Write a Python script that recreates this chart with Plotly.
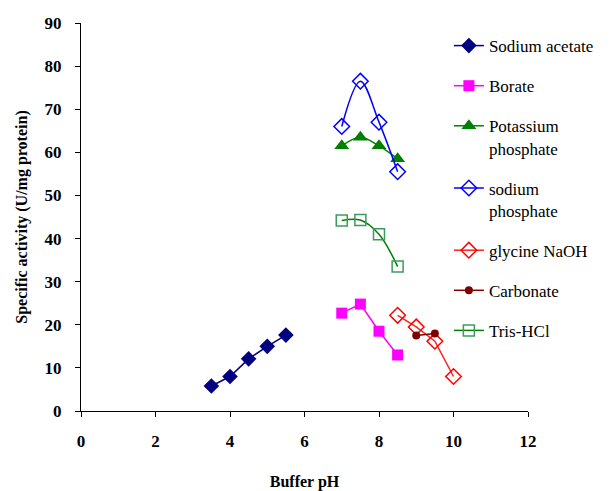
import plotly.graph_objects as go

# Data
acetate_ph = [3.5, 4, 4.5, 5, 5.5]
acetate_act = [5.8, 8.0, 12.1, 15.0, 17.6]

borate_ph = [7, 7.5, 8, 8.5]
borate_act = [22.7, 24.8, 18.5, 13.0]

kphos_ph = [7, 7.5, 8, 8.5]
kphos_act = [61.5, 63.5, 61.5, 58.5]

naphos_ph = [7, 7.5, 8, 8.5]
naphos_act = [66.0, 76.5, 67.0, 55.5]

glycine_ph = [8.5, 9, 9.5, 10]
glycine_act = [22.2, 19.5, 16.2, 8.0]

carb_ph = [9, 9.5]
carb_act = [17.5, 18.0]

tris_ph = [7, 7.5, 8, 8.5]
tris_act = [44.2, 44.3, 41.0, 33.5]

series = [
    ("Sodium acetate", acetate_ph, acetate_act, dict(symbol="diamond", size=12, color="#000080"), dict(color="#000080", width=1.5), "linear"),
    ("Borate", borate_ph, borate_act, dict(symbol="square", size=11, color="#FF00FF"), dict(color="#FF00FF", width=1.5), "linear"),
    ("Potassium<br>phosphate", kphos_ph, kphos_act, dict(symbol="triangle-up", size=13, color="#008000"), dict(color="#008000", width=1.5), "spline"),
    ("sodium<br>phosphate", naphos_ph, naphos_act, dict(symbol="diamond-open", size=12, color="#0000FF", line=dict(width=1.5)), dict(color="#0000FF", width=1.5), "spline"),
    ("glycine NaOH", glycine_ph, glycine_act, dict(symbol="diamond-open", size=12, color="#FF0000", line=dict(width=1.5)), dict(color="#FF2020", width=1.5), "linear"),
    ("Carbonate", carb_ph, carb_act, dict(symbol="circle", size=8, color="#800000"), dict(color="#800000", width=1.5), "linear"),
    ("Tris-HCl", tris_ph, tris_act, dict(symbol="square-open", size=11, color="#3C9A60", line=dict(width=1.5)), dict(color="#008000", width=1.5), "spline"),
]

fig = go.Figure()
for name, x, y, marker, line, shape in series:
    line = dict(line, shape=shape)
    fig.add_trace(go.Scatter(x=x, y=y, name=name, mode="lines+markers",
                             marker=marker, line=line, legendgroup=name))

FF = "Liberation Serif"
fig.update_layout(
    width=615, height=491,
    margin=dict(l=81, r=87, t=23, b=80),
    plot_bgcolor="white", paper_bgcolor="white",
    font=dict(family=FF, color="black"),
    showlegend=True,
    legend=dict(x=0.823, y=0.987, xanchor="left", yanchor="top",
                font=dict(family=FF, size=17, color="black"),
                valign="top", tracegroupgap=15, bgcolor="rgba(0,0,0,0)",
                itemwidth=30),
    xaxis=dict(range=[0, 12], dtick=2, showgrid=False, zeroline=False,
               showline=True, linecolor="black", linewidth=1,
               ticks="outside", ticklen=5, tickcolor="black",
               ticklabelstandoff=10, automargin=False,
               tickfont=dict(family=FF, size=17, color="black", weight="bold"),
               title=dict(text="<b>Buffer pH</b>", font=dict(family=FF, size=16), standoff=25)),
    yaxis=dict(range=[0, 90], dtick=10, showgrid=False, zeroline=False,
               showline=True, linecolor="black", linewidth=1,
               ticks="outside", ticklen=5, tickcolor="black",
               ticklabelstandoff=10, automargin=False,
               tickfont=dict(family=FF, size=17, color="black", weight="bold"),
               title=dict(text="<b>Specific activity (U/mg protein)</b>", font=dict(family=FF, size=16), standoff=12)),
)

fig.write_html("out.html")
